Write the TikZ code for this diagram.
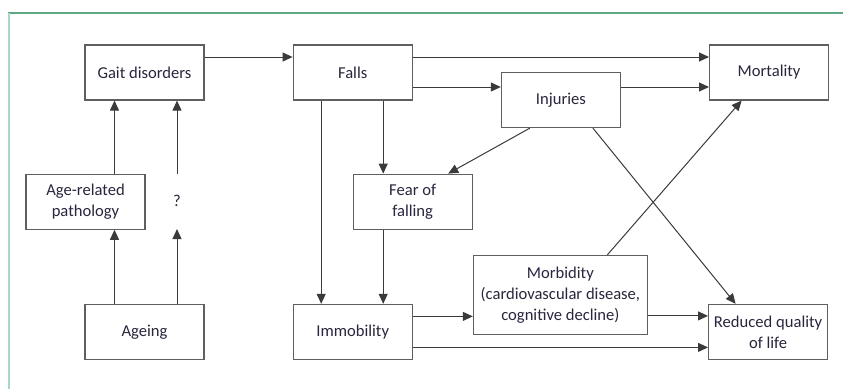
\documentclass[tikz,border=0pt]{standalone}
\usepackage{fontspec}
\setmainfont{Carlito}
\usepackage{xcolor}
\definecolor{boxedge}{HTML}{5F5F5F}
\definecolor{linkgrey}{HTML}{3A3A3A}
\definecolor{inkblue}{HTML}{29263D}
\definecolor{framedark}{HTML}{5DA882}
\definecolor{framelight}{HTML}{A9D9C2}
\usetikzlibrary{arrows.meta,positioning}

\begin{document}
\begin{tikzpicture}[font=\fontsize{16.6}{21}\selectfont,node distance=73pt and 88pt,
  factor/.style={draw=boxedge,line width=1.2pt,fill=white,align=center,inner sep=3pt,minimum width=119pt,minimum height=55pt,text=inkblue},
  arr/.style={-{Triangle[length=10pt,width=9pt]},linkgrey,line width=1pt}]
  \useasboundingbox (0,0) rectangle (843pt,-389pt);
  % green frame of the panel
  \draw[framedark,line width=1.6pt] (8pt,-13pt) -- (843pt,-13pt);
  \draw[framelight,line width=2.6pt] (9pt,-13pt) -- (9pt,-389pt);
  \node[factor] (gait) at (144.5pt,-72.5pt) {Gait disorders};
  \node[factor,right=of gait] (falls) {Falls};
  \node[factor,right=of falls,yshift=-27.5pt] (inj) {Injuries};
  \node[factor,right=of inj,yshift=27.5pt] (mort) {Mortality};
  \node[factor,below=of gait,xshift=-59pt] (agepath) {Age-related\\pathology};
  \node[below=of gait,xshift=32.5pt,minimum height=55pt,text=inkblue] (qmark) {?};
  \node[factor,below=74pt of agepath,xshift=59pt] (ageing) {Ageing};
  \node[factor,below=of falls,xshift=60pt] (fear) {Fear of\\falling};
  \node[factor,below=74pt of fear,xshift=-60pt] (immob) {Immobility};
  \node[factor,right=60pt of immob,yshift=37pt,minimum width=174pt,minimum height=79pt] (morb) {Morbidity\\(cardiovascular disease,\\cognitive decline)};
  \node[factor,right=60pt of morb,yshift=-37pt] (qol) {Reduced quality\\of life};
  % top row
  \draw[arr] ([yshift=15.5pt]gait.east) -- ([yshift=15.5pt]gait.east -| falls.west);
  \draw[arr] ([yshift=15.5pt]falls.east) -- ([yshift=15.5pt]falls.east -| mort.west);
  \draw[arr] ([yshift=-14.5pt]falls.east) -- ([yshift=-14.5pt]falls.east -| inj.west);
  \draw[arr] ([yshift=13pt]inj.east) -- ([yshift=13pt]inj.east -| mort.west);
  % left column
  \draw[arr] ([xshift=-30pt]gait.south |- agepath.north) -- ([xshift=-30pt]gait.south);
  \draw[arr] ([xshift=-30pt]ageing.north) -- ([xshift=-30pt]ageing.north |- agepath.south);
  \draw[arr] (qmark.north) -- (qmark.north |- gait.south);
  \draw[arr] (qmark.south |- ageing.north) -- (qmark.south);
  % falls downwards
  \draw[arr] ([xshift=-31.5pt]falls.south) -- ([xshift=-31.5pt]falls.south |- immob.north);
  \draw[arr] ([xshift=30.5pt]falls.south) -- ([xshift=30.5pt]falls.south |- fear.north);
  \draw[arr] ([xshift=30.5pt]immob.north |- fear.south) -- ([xshift=30.5pt]immob.north);
  % bottom row
  \draw[arr] ([yshift=15.5pt]immob.east) -- ([yshift=15.5pt]immob.east -| morb.west);
  \draw[arr] ([yshift=-15.5pt]immob.east) -- ([yshift=-15.5pt]immob.east -| qol.west);
  \draw[arr] ([yshift=16pt]qol.west -| morb.east) -- ([yshift=16pt]qol.west);
  % diagonals
  \draw[arr] ([xshift=-31pt]inj.south) -- ([xshift=35.5pt]fear.north);
  \draw[arr] ([xshift=32pt]inj.south) -- ([xshift=-32.5pt]qol.north);
  \draw[arr] ([xshift=47pt]morb.north) -- ([xshift=-27.5pt]mort.south);
\end{tikzpicture}
\end{document}
